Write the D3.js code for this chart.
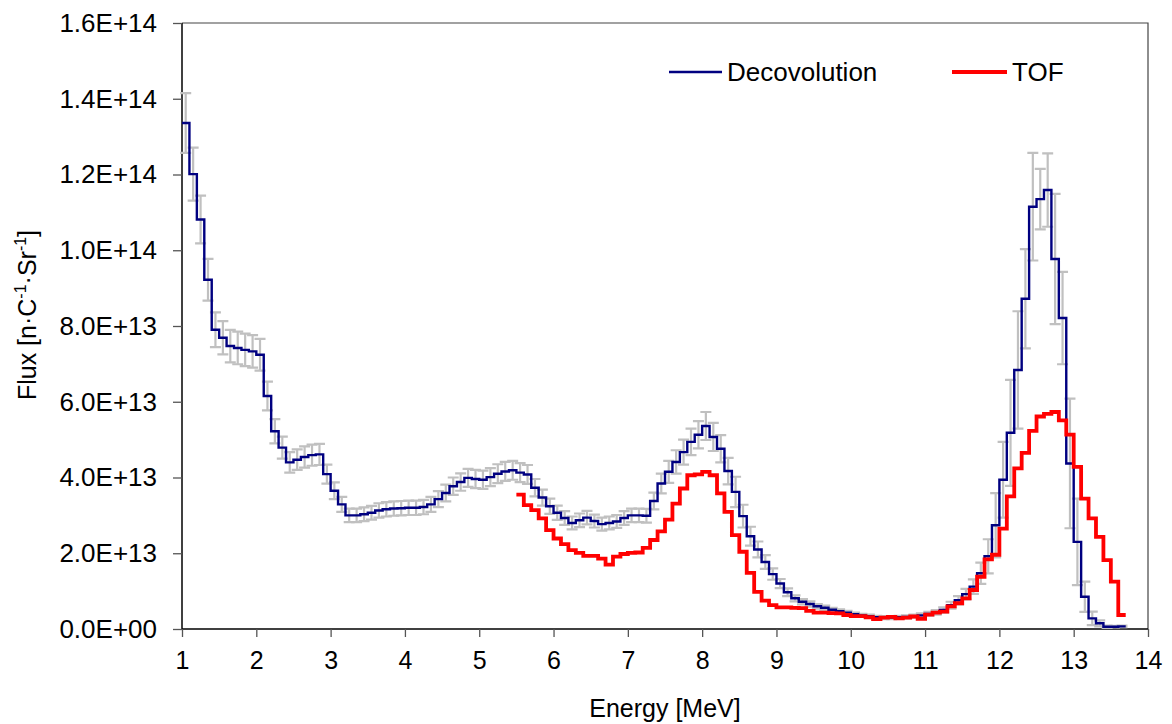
<!DOCTYPE html>
<html>
<head>
<meta charset="utf-8">
<script src="https://cdn.jsdelivr.net/npm/d3@7"></script>
<style>
  body { margin: 0; background: #fff; }
  text { font-family: "Liberation Sans", Arial, sans-serif; fill: #000; }
</style>
</head>
<body>
<svg id="chart" width="1172" height="724"></svg>
<script>
// Flux values are in units of 1E13 n/C/Sr, one value per 0.1 MeV bin
const decoStart = 1.0;
const decoFlux = [
  13.36, 12.01, 10.81, 9.22, 7.90, 7.69, 7.47, 7.42, 7.37, 7.33,
  7.24, 6.15, 5.22, 4.79, 4.40, 4.47, 4.54, 4.59, 4.61, 4.09,
  3.65, 3.29, 3.00, 3.00, 3.03, 3.07, 3.13, 3.16, 3.18, 3.19,
  3.20, 3.20, 3.22, 3.29, 3.43, 3.59, 3.77, 3.88, 3.99, 3.96,
  3.94, 4.01, 4.10, 4.16, 4.19, 4.13, 4.08, 3.73, 3.47, 3.24,
  3.07, 2.93, 2.80, 2.87, 2.94, 2.85, 2.77, 2.80, 2.84, 2.93,
  3.00, 3.00, 2.99, 3.38, 3.84, 4.15, 4.41, 4.67, 4.94, 5.13,
  5.36, 5.07, 4.76, 4.17, 3.62, 2.98, 2.45, 2.10, 1.77, 1.45,
  1.20, 0.97, 0.81, 0.72, 0.66, 0.60, 0.56, 0.51, 0.47, 0.43,
  0.39, 0.36, 0.34, 0.31, 0.30, 0.30, 0.31, 0.32, 0.34, 0.36,
  0.40, 0.44, 0.50, 0.63, 0.76, 0.92, 1.12, 1.47, 1.92, 2.74,
  3.94, 5.18, 6.84, 8.72, 11.15, 11.35, 11.59, 9.77, 8.21, 4.37,
  2.30, 0.85, 0.28, 0.15, 0.06, 0.06, 0.07
];
const decoErr = [
  0.79, 0.70, 0.63, 0.55, 0.46, 0.44, 0.43, 0.43, 0.43, 0.43,
  0.42, 0.38, 0.32, 0.29, 0.27, 0.27, 0.28, 0.28, 0.28, 0.25,
  0.22, 0.20, 0.18, 0.18, 0.18, 0.18, 0.19, 0.19, 0.19, 0.19,
  0.19, 0.19, 0.19, 0.20, 0.21, 0.22, 0.23, 0.23, 0.24, 0.24,
  0.24, 0.24, 0.25, 0.25, 0.25, 0.25, 0.25, 0.23, 0.21, 0.20,
  0.19, 0.18, 0.17, 0.18, 0.18, 0.17, 0.17, 0.17, 0.17, 0.18,
  0.18, 0.18, 0.18, 0.22, 0.26, 0.29, 0.31, 0.33, 0.35, 0.36,
  0.37, 0.37, 0.36, 0.35, 0.40, 0.30, 0.25, 0.21, 0.18, 0.15,
  0.12, 0.10, 0.08, 0.07, 0.07, 0.06, 0.06, 0.05, 0.05, 0.05,
  0.04, 0.04, 0.04, 0.04, 0.04, 0.04, 0.04, 0.04, 0.04, 0.05,
  0.05, 0.06, 0.07, 0.09, 0.11, 0.14, 0.19, 0.28, 0.45, 0.85,
  1.00, 1.40, 1.55, 1.31, 1.42, 0.80, 0.97, 1.72, 1.22, 1.71,
  1.14, 0.40, 0.18, 0.08, 0.03, 0.02, 0.02
];
const tofStart = 5.5;
const tofFlux = [
  3.55, 3.27, 3.14, 2.92, 2.61, 2.39, 2.24, 2.08, 2.01, 1.93,
  1.93, 1.86, 1.70, 1.91, 1.98, 2.01, 2.02, 2.14, 2.35, 2.58,
  2.89, 3.31, 3.71, 4.06, 4.08, 4.15, 4.06, 3.58, 3.09, 2.48,
  2.04, 1.48, 0.98, 0.75, 0.63, 0.57, 0.57, 0.56, 0.55, 0.48,
  0.43, 0.43, 0.42, 0.41, 0.37, 0.34, 0.34, 0.31, 0.26, 0.30,
  0.32, 0.28, 0.30, 0.33, 0.27, 0.38, 0.43, 0.46, 0.60, 0.68,
  0.81, 1.03, 1.38, 1.84, 1.96, 2.65, 3.50, 4.24, 4.65, 5.23,
  5.61, 5.68, 5.73, 5.51, 5.13, 4.28, 3.44, 2.92, 2.43, 1.82,
  1.25, 0.37
];
const binWidth = 0.1;
const unit = 1e13;
const xTicks = [1, 2, 3, 4, 5, 6, 7, 8, 9, 10, 11, 12, 13, 14];
const yTicks = [0, 2e13, 4e13, 6e13, 8e13, 10e13, 12e13, 14e13, 16e13];
const seriesNames = ["Decovolution", "TOF"];

const svg = d3.select("#chart");
const plot = { left: 182, right: 1148, top: 23, bottom: 629 };

const x = d3.scaleLinear().domain([1, 14]).range([plot.left, plot.right]);
const y = d3.scaleLinear().domain([0, 1.6e14]).range([plot.bottom, plot.top]);

function sci(d) {
  if (d === 0) return "0.0E+00";
  const e = Math.floor(Math.log10(d) + 1e-9);
  const m = d / Math.pow(10, e);
  return m.toFixed(1) + "E+" + String(e).padStart(2, "0");
}

// bins -> step points
function stepPoints(start, vals) {
  const pts = vals.map((v, i) => [start + i * binWidth, v * unit]);
  pts.push([start + vals.length * binWidth, vals[vals.length - 1] * unit]);
  return pts;
}

// plot frame (top / right)
svg.append("path")
  .attr("d", `M${plot.left},${plot.top}H${plot.right}V${plot.bottom}`)
  .attr("fill", "none")
  .attr("stroke", "#444")
  .attr("stroke-width", 1.2);

// axes
const gx = svg.append("g")
  .attr("transform", `translate(0,${plot.bottom})`)
  .call(d3.axisBottom(x).tickValues(xTicks).tickSize(8).tickPadding(14).tickFormat(d3.format("d")));
const gy = svg.append("g")
  .attr("transform", `translate(${plot.left},0)`)
  .call(d3.axisLeft(y).tickValues(yTicks).tickSize(9).tickPadding(16).tickFormat(sci));

[gx, gy].forEach(g => {
  g.select(".domain").attr("stroke", "#000").attr("stroke-width", 1.5);
  g.selectAll(".tick line").attr("stroke", "#555").attr("stroke-width", 1.3);
  g.selectAll(".tick text").attr("fill", "#000")
    .style("font-family", '"Liberation Sans", Arial, sans-serif');
});
gx.selectAll(".tick text").attr("font-size", 25);
gy.selectAll(".tick text").attr("font-size", 26);
gy.select(".domain").attr("d", `M0,${plot.top}V${plot.bottom}`);
gx.select(".domain").attr("d", `M${plot.left},0H${plot.right}`);

// error bars
const errG = svg.append("g").attr("stroke", "#c0c0c0").attr("stroke-width", 2.2).attr("fill", "none");
decoFlux.forEach((v, i) => {
  const cx = x(decoStart + (i + 0.5) * binWidth);
  const y1 = y((v + decoErr[i]) * unit), y0 = y((v - decoErr[i]) * unit);
  errG.append("path")
    .attr("d", `M${cx},${y1}V${y0}M${cx - 5.5},${y1}H${cx + 5.5}M${cx - 5.5},${y0}H${cx + 5.5}`);
});

const line = d3.line().x(d => x(d[0])).y(d => y(d[1])).curve(d3.curveStepAfter);

svg.append("path")
  .datum(stepPoints(decoStart, decoFlux))
  .attr("d", line)
  .attr("fill", "none")
  .attr("stroke", "#000080")
  .attr("stroke-width", 2.4);

svg.append("path")
  .datum(stepPoints(tofStart, tofFlux))
  .attr("d", line)
  .attr("fill", "none")
  .attr("stroke", "#ff0000")
  .attr("stroke-width", 3.8);

// legend
const legend = [
  { name: seriesNames[0], color: "#000080", w: 2.4, x0: 669, x1: 722 },
  { name: seriesNames[1], color: "#ff0000", w: 3.8, x0: 952, x1: 1007 }
];
legend.forEach(l => {
  svg.append("line").attr("x1", l.x0).attr("x2", l.x1).attr("y1", 72).attr("y2", 72)
    .attr("stroke", l.color).attr("stroke-width", l.w);
  svg.append("text").attr("x", l.x1 + 5).attr("y", 81).attr("font-size", 26).text(l.name);
});

// axis titles
svg.append("text")
  .attr("x", (plot.left + plot.right) / 2)
  .attr("y", 717)
  .attr("text-anchor", "middle")
  .attr("font-size", 25)
  .text("Energy [MeV]");

const yt = svg.append("text")
  .attr("transform", "translate(36,315) rotate(-90)")
  .attr("text-anchor", "middle")
  .attr("font-size", 25);
yt.append("tspan").text("Flux [n·C");
yt.append("tspan").attr("font-size", 16).attr("dy", -10).text("-1");
yt.append("tspan").attr("dy", 10).text("·Sr");
yt.append("tspan").attr("font-size", 16).attr("dy", -10).text("-1");
yt.append("tspan").attr("dy", 10).text("]");
</script>
</body>
</html>
